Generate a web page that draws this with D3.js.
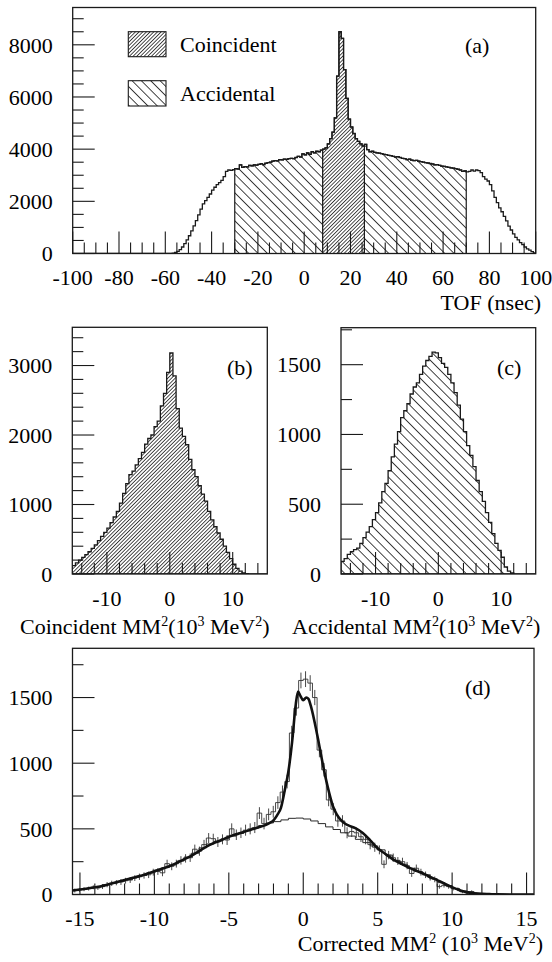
<!DOCTYPE html>
<html><head><meta charset="utf-8">
<script src="https://cdn.jsdelivr.net/npm/d3@7"></script>
<style>
html,body{margin:0;padding:0;background:#fff;}
svg{display:block;}
text{font-family:"Liberation Serif","Times New Roman",serif;fill:#000;}
</style></head><body>
<svg id="chart" width="552" height="962"></svg>
<script>
// ---------- DATA ----------
// (a) TOF histogram, 1 nsec bins, left edges -100 ... 99
const tofStart = -100, tofWidth = 1;
const tofCounts = [
 0,0,0,0,0,0,0,0,0,0, 0,0,0,0,0,0,0,0,0,0,
 0,0,0,0,0,0,0,0,0,0, 0,0,0,0,0,0,0,0,0,0,
 0,0,5,15,40,80,150,250,380,520,
 680,870,1060,1260,1480,1700,1900,2030,2150,2280,
 2430,2540,2640,2720,2800,2950,3150,3200,3190,3210,
 3250,3240,3400,3300,3330,3320,3380,3360,3400,3390,
 3420,3440,3410,3460,3480,3500,3540,3560,3550,3600,
 3590,3620,3610,3640,3650,3640,3680,3720,3700,3820,
 3780,3860,3800,3900,3860,3920,3900,3960,4000,4050,
 4200,4400,4650,5200,6800,8500,8250,7050,5950,5150,
 4850,4600,4400,4300,4200,4120,4180,3980,3900,3920,
 3880,3860,3850,3830,3800,3790,3760,3750,3720,3700,
 3710,3680,3650,3640,3600,3620,3580,3560,3570,3540,
 3520,3500,3480,3470,3450,3430,3400,3410,3380,3350,
 3340,3320,3300,3280,3270,3250,3230,3200,3150,3170,
 3130,3150,3200,3160,3200,3180,3100,2950,2850,2780,
 2640,2400,2150,1950,1750,1600,1420,1250,1050,900,
 750,620,520,420,340,250,180,130,70,20
];
const accWindows = [[-30, 8], [26, 70]];
const coincWindow = [8, 26];
const tofMajorTicks = [-100,-80,-60,-40,-20,0,20,40,60,80,100];
const tofYMajor = [0,2000,4000,6000,8000];

// (b),(c) MM^2 histograms, 0.5 bins from -15.5
const mmStart = -15.5, mmWidth = 0.5;
const coincMM = [
 120,160,200,240,280,320,370,420,480,540,
 600,660,740,820,900,1020,1160,1300,1430,1480,
 1570,1660,1750,1870,1950,2000,2120,2200,2420,2600,
 2900,3180,2850,2380,2100,1980,1860,1650,1500,1400,
 1270,1150,1050,900,780,680,590,500,400,310,
 220,140,80,40,15,5,0,0,0,0,
 0,0
];
const accidMM = [
 90,110,140,160,175,185,220,260,300,340,
 390,440,510,590,650,740,840,930,1020,1120,
 1170,1220,1290,1340,1370,1430,1490,1530,1560,1590,
 1585,1550,1510,1480,1430,1370,1300,1210,1110,1020,
 920,850,770,670,590,520,440,370,290,220,
 170,120,50,20,8,0,0,0,0,0,
 0,0
];
const mmXMajor = [-10,0,10];
const coincYMajor = [0,1000,2000,3000];
const accidYMajor = [0,500,1000,1500];

// (d) corrected MM^2: data (0.31 bins from -15.5), errors, background (0.5 bins), fit
const corrStart = -15.5, corrWidth = 0.31;
const corrData = [
 30,35,40,45,55,50,60,75,85,90,
 95,105,110,125,135,145,150,170,175,165,
 235,215,235,260,275,280,345,330,380,430,
 425,400,420,415,500,455,470,490,500,510,
 620,540,610,630,700,780,860,1230,1420,1630,
 1640,1610,1500,1100,950,720,650,560,560,470,
 480,470,440,420,380,360,340,230,300,280,
 255,250,220,160,200,170,150,130,115,60,
 70,60,45,40,20,12,22,8,5,3,
 0,2,0,1,0,0,0,0,0,0
];
const corrErr = [
 15,15,15,15,15,15,18,20,20,20,
 22,22,22,22,24,24,25,26,26,26,
 30,30,30,32,32,32,35,35,36,38,
 38,38,38,38,42,40,40,42,42,42,
 45,44,45,45,48,50,52,55,58,60,
 60,60,58,55,52,48,46,44,44,42,
 42,40,40,38,36,35,34,30,32,32,
 30,30,28,26,28,26,25,24,22,16,
 17,16,14,14,10,8,10,6,5,4,
 0,3,0,2,0,0,0,0,0,0
];
const bgStart = -15.5, bgWidth = 0.5;
const bgVals = [
 33,40,50,60,75,85,100,115,130,145,
 165,185,205,225,255,285,315,355,385,405,
 425,445,465,485,505,525,545,555,568,580,
 582,575,560,540,515,495,470,445,420,395,
 370,340,300,260,230,200,175,150,120,90,
 68,45,25,12,6,3,0,0,0,0,
 0,0
];
const fitX = [-15.5,-15,-14.5,-14,-13.5,-13,-12.5,-12,-11.5,-11,
 -10.5,-10,-9.5,-9,-8.5,-8,-7.5,-7,-6.5,-6,
 -5.5,-5,-4.5,-4,-3.5,-3,-2.5,-2.25,-2,-1.75,
 -1.5,-1.25,-1,-0.75,-0.5,-0.35,-0.2,0,0.2,0.35,
 0.5,0.75,1,1.25,1.5,1.75,2,2.25,2.5,2.75,
 3,3.5,4,4.5,5,5.5,6,6.5,7,7.5,
 8,8.5,9,9.5,10,10.5,11,11.5,12,12.5,
 13,14,15.5];
const fitY = [30,38,46,55,65,80,95,110,125,140,
 158,177,196,215,241,268,296,330,365,392,
 414,440,458,476,494,512,530,545,565,605,
 660,790,935,1160,1450,1545,1515,1480,1500,1490,
 1440,1320,1180,1030,890,770,670,610,570,545,
 528,505,468,412,352,310,270,240,210,185,
 163,135,110,82,56,33,18,10,5,3,
 1,0,0];
const corrXMajor = [-15,-10,-5,0,5,10,15];
const corrYMajor = [0,500,1000,1500];

// ---------- DRAWING ----------
const svg = d3.select("#chart");
const defs = svg.append("defs");
const INK = "#1a1a1a";
const FS = "22px", FSS = "14px";

function hatch(id, angle, spacing, sw){
  const p = defs.append("pattern").attr("id", id)
    .attr("patternUnits","userSpaceOnUse")
    .attr("width", spacing).attr("height", spacing)
    .attr("patternTransform", `rotate(${angle})`);
  p.append("rect").attr("width", spacing).attr("height", spacing).attr("fill","#fff");
  p.append("line").attr("x1", spacing/2).attr("x2", spacing/2)
    .attr("y1", -1).attr("y2", spacing+1)
    .attr("stroke", "#222").attr("stroke-width", sw);
}
hatch("coincHatch", 45, 2.6, 0.8);
hatch("accidHatch", -45, 6.6, 0.85);

function edgesOf(start, width, n){ return d3.range(n+1).map(i => start + i*width); }
function stepPts(edges, vals, i0, i1){
  const pts = [[edges[i0], 0]];
  for (let i = i0; i <= i1; i++){ pts.push([edges[i], vals[i]]); pts.push([edges[i+1], vals[i]]); }
  pts.push([edges[i1+1], 0]);
  return pts;
}

let clipN = 0;
function makePanel(o){
  const x = d3.scaleLinear().domain(o.xd).range([o.l, o.r]);
  const y = d3.scaleLinear().domain(o.yd).range([o.b, o.t]);
  const id = "clip" + (clipN++);
  defs.append("clipPath").attr("id", id).append("rect")
    .attr("x", o.l).attr("y", o.t).attr("width", o.r - o.l).attr("height", o.b - o.t);
  const g = svg.append("g");
  const plot = g.append("g").attr("clip-path", `url(#${id})`);
  const line = d3.line().x(d => x(d[0])).y(d => y(d[1]));
  return {x, y, g, plot, line, o};
}

function drawAxes(P, xMajor, xMinor, yMajor, yMinor, xFmt, labelDy){
  const {x, y, g, o} = P;
  const tk = g.append("g").attr("stroke", INK).attr("stroke-width", 1.1);
  xMajor.forEach(v => tk.append("line").attr("x1", x(v)).attr("x2", x(v)).attr("y1", o.b).attr("y2", o.b - 22));
  xMinor.forEach(v => tk.append("line").attr("x1", x(v)).attr("x2", x(v)).attr("y1", o.b).attr("y2", o.b - 11));
  yMajor.forEach(v => tk.append("line").attr("y1", y(v)).attr("y2", y(v)).attr("x1", o.l).attr("x2", o.l + 22));
  yMinor.forEach(v => tk.append("line").attr("y1", y(v)).attr("y2", y(v)).attr("x1", o.l).attr("x2", o.l + 11));
  g.append("rect").attr("x", o.l).attr("y", o.t).attr("width", o.r - o.l).attr("height", o.b - o.t)
    .attr("fill","none").attr("stroke", INK).attr("stroke-width", 1.3);
  xMajor.forEach(v => g.append("text").attr("x", x(v)).attr("y", o.b + labelDy)
    .attr("text-anchor","middle").style("font-size",FS).text(xFmt(v)));
  yMajor.forEach(v => g.append("text").attr("x", o.l - 20).attr("y", y(v)).attr("dy","0.35em")
    .attr("text-anchor","end").style("font-size",FS).text(String(v)));
}

// ===== Panel (a) =====
{
  const P = makePanel({l:72.7, r:535.7, t:7.5, b:253.5, xd:[-100,100], yd:[0,9430]});
  const edges = edgesOf(tofStart, tofWidth, tofCounts.length);
  const idx = v => Math.round((v - tofStart)/tofWidth);
  accWindows.forEach(w => {
    P.plot.append("path").attr("d", P.line(stepPts(edges, tofCounts, idx(w[0]), idx(w[1]) - 1)) + "Z")
      .attr("fill","url(#accidHatch)").attr("stroke", INK).attr("stroke-width", 1.2);
  });
  P.plot.append("path").attr("d", P.line(stepPts(edges, tofCounts, idx(coincWindow[0]), idx(coincWindow[1]) - 1)) + "Z")
    .attr("fill","url(#coincHatch)").attr("stroke", INK).attr("stroke-width", 1.2);
  P.plot.append("path").attr("d", P.line(stepPts(edges, tofCounts, 0, tofCounts.length - 1)))
    .attr("fill","none").attr("stroke", INK).attr("stroke-width", 1.3);
  drawAxes(P, tofMajorTicks, d3.range(-100, 101, 5).filter(v => v % 20 !== 0),
    tofYMajor, d3.range(0, 9001, 500).filter(v => v % 2000 !== 0), v => String(v), 31);
  // legend
  svg.append("rect").attr("x",128.3).attr("y",31.7).attr("width",37.7).attr("height",25)
    .attr("fill","url(#coincHatch)").attr("stroke",INK).attr("stroke-width",1.1);
  svg.append("rect").attr("x",128.3).attr("y",80.7).attr("width",37.7).attr("height",25.3)
    .attr("fill","url(#accidHatch)").attr("stroke",INK).attr("stroke-width",1.1);
  svg.append("text").attr("x",180).attr("y",52).style("font-size",FS).text("Coincident");
  svg.append("text").attr("x",180).attr("y",101).style("font-size",FS).text("Accidental");
  svg.append("text").attr("x",465).attr("y",53).style("font-size",FS).text("(a)");
  svg.append("text").attr("x",541).attr("y",310).attr("text-anchor","end").style("font-size",FS).text("TOF (nsec)");
}

function mmTitle(x, y, anchor, prefix, space){
  const t = svg.append("text").attr("x", x).attr("y", y).attr("text-anchor", anchor).style("font-size",FS);
  t.append("tspan").text(prefix + " MM");
  t.append("tspan").attr("dy", -8).style("font-size",FSS).text("2");
  t.append("tspan").attr("dy", 8).text((space ? " " : "") + "(10");
  t.append("tspan").attr("dy", -8).style("font-size",FSS).text("3");
  t.append("tspan").attr("dy", 8).text(" MeV");
  t.append("tspan").attr("dy", -8).style("font-size",FSS).text("2");
  t.append("tspan").attr("dy", 8).text(")");
}

// ===== Panel (b) =====
{
  const P = makePanel({l:72.3, r:267.3, t:327.3, b:574, xd:[-15.5,15.5], yd:[0,3550]});
  const edges = edgesOf(mmStart, mmWidth, coincMM.length);
  P.plot.append("path").attr("d", P.line(stepPts(edges, coincMM, 0, coincMM.length - 1)) + "Z")
    .attr("fill","url(#coincHatch)").attr("stroke", INK).attr("stroke-width", 1.3);
  drawAxes(P, mmXMajor, d3.range(-14, 15, 2).filter(v => v % 10 !== 0),
    coincYMajor, d3.range(0, 3401, 200).filter(v => v % 1000 !== 0), v => String(v), 31.5);
  svg.append("text").attr("x",227).attr("y",375).style("font-size",FS).text("(b)");
  mmTitle(20, 634, "start", "Coincident", false);
}

// ===== Panel (c) =====
{
  const P = makePanel({l:341, r:535.7, t:327.7, b:574, xd:[-15.5,15.5], yd:[0,1765]});
  const edges = edgesOf(mmStart, mmWidth, accidMM.length);
  P.plot.append("path").attr("d", P.line(stepPts(edges, accidMM, 0, accidMM.length - 1)) + "Z")
    .attr("fill","url(#accidHatch)").attr("stroke", INK).attr("stroke-width", 1.3);
  drawAxes(P, mmXMajor, d3.range(-14, 15, 2).filter(v => v % 10 !== 0),
    accidYMajor, [250,750,1250,1750], v => String(v), 31.5);
  svg.append("text").attr("x",497).attr("y",375).style("font-size",FS).text("(c)");
  mmTitle(292, 634, "start", "Accidental", false);
}

// ===== Panel (d) =====
{
  const P = makePanel({l:72.5, r:534, t:648.3, b:894.5, xd:[-15.5,15.5], yd:[0,1875]});
  const bgEdges = edgesOf(bgStart, bgWidth, bgVals.length);
  P.plot.append("path").attr("d", P.line(stepPts(bgEdges, bgVals, 0, bgVals.length - 1)))
    .attr("fill","none").attr("stroke", "#2a2a2a").attr("stroke-width", 1.0);
  const dEdges = edgesOf(corrStart, corrWidth, corrData.length);
  P.plot.append("path").attr("d", P.line(stepPts(dEdges, corrData, 0, corrData.length - 1)))
    .attr("fill","none").attr("stroke", "#333").attr("stroke-width", 0.9);
  const eb = P.plot.append("g").attr("stroke","#333").attr("stroke-width",0.9);
  corrData.forEach((v, i) => {
    if (corrErr[i] <= 0) return;
    const cx = P.x(corrStart + (i + 0.5)*corrWidth);
    eb.append("line").attr("x1", cx).attr("x2", cx)
      .attr("y1", P.y(Math.max(0, v - corrErr[i]))).attr("y2", P.y(v + corrErr[i]));
  });
  const fitLine = d3.line().x((d,i) => P.x(fitX[i])).y((d,i) => P.y(fitY[i])).curve(d3.curveMonotoneX);
  P.plot.append("path").attr("d", fitLine(fitX)).attr("fill","none")
    .attr("stroke", "#111").attr("stroke-width", 2.6).attr("stroke-linejoin","round");
  drawAxes(P, corrXMajor, d3.range(-15, 16, 1).filter(v => v % 5 !== 0),
    corrYMajor, [250,750,1250,1750], v => String(v), 31);
  svg.append("text").attr("x",465).attr("y",695).style("font-size",FS).text("(d)");
  mmTitle(543, 951, "end", "Corrected", true);
}
</script>
</body></html>
